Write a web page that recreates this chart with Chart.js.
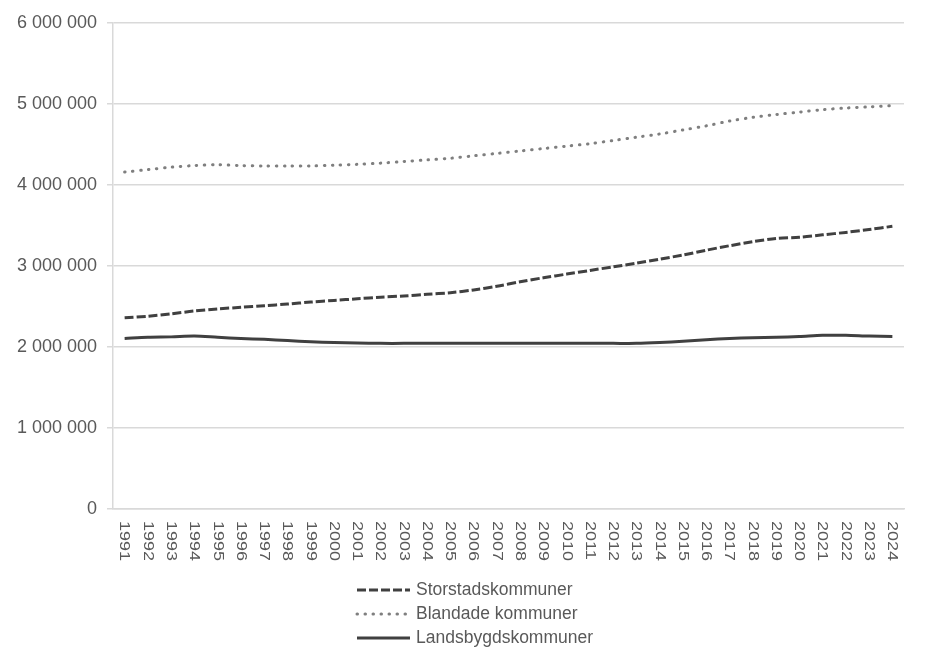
<!DOCTYPE html>
<html>
<head>
<meta charset="utf-8">
<script src="https://cdn.jsdelivr.net/npm/chart.js@4/dist/chart.umd.min.js"></script>
<style>
  html, body { margin: 0; padding: 0; background: #fff; }
</style>
</head>
<body>
<canvas id="chart" width="927" height="658"></canvas>
<script>
// categories
const years = ['1991', '1992', '1993', '1994', '1995', '1996', '1997', '1998', '1999', '2000',
  '2001', '2002', '2003', '2004', '2005', '2006', '2007', '2008', '2009', '2010',
  '2011', '2012', '2013', '2014', '2015', '2016', '2017', '2018', '2019', '2020',
  '2021', '2022', '2023', '2024'];

// series (population)
const storstad = [2360000, 2380000, 2410000, 2445000, 2470000, 2490000, 2510000, 2530000, 2555000, 2575000,
  2595000, 2615000, 2630000, 2650000, 2670000, 2705000, 2750000, 2805000, 2855000, 2900000,
  2945000, 2990000, 3035000, 3085000, 3135000, 3195000, 3250000, 3300000, 3340000, 3355000,
  3385000, 3415000, 3450000, 3490000];
const blandade = [4160000, 4190000, 4220000, 4240000, 4250000, 4240000, 4235000, 4235000, 4235000, 4245000,
  4255000, 4270000, 4290000, 4310000, 4330000, 4360000, 4390000, 4420000, 4450000, 4480000,
  4510000, 4550000, 4590000, 4630000, 4680000, 4730000, 4790000, 4835000, 4870000, 4900000,
  4930000, 4950000, 4965000, 4980000];
const landsbygd = [2105000, 2120000, 2125000, 2135000, 2120000, 2105000, 2095000, 2080000, 2065000, 2055000,
  2050000, 2045000, 2045000, 2045000, 2045000, 2045000, 2045000, 2045000, 2045000, 2045000,
  2045000, 2045000, 2045000, 2055000, 2070000, 2090000, 2105000, 2115000, 2120000, 2130000,
  2145000, 2145000, 2135000, 2130000];

const seriesNames = ['Storstadskommuner', 'Blandade kommuner', 'Landsbygdskommuner'];
const yTicks = [0, 1000000, 2000000, 3000000, 4000000, 5000000, 6000000];

const textColor = '#595959';
const gridColor = '#d9d9d9';
const fontFamily = '"Liberation Sans", Arial, sans-serif';

function fmt(v) {
  return String(v).replace(/\B(?=(\d{3})+(?!\d))/g, ' ');
}

// vertical year labels, reading top to bottom
const yearLabels = {
  id: 'yearLabels',
  afterDraw(chart) {
    const ctx = chart.ctx;
    const x = chart.scales.x;
    ctx.save();
    ctx.fillStyle = textColor;
    ctx.font = '15px ' + fontFamily;
    ctx.textAlign = 'left';
    ctx.textBaseline = 'middle';
    x.ticks.forEach((t, i) => {
      ctx.save();
      ctx.translate(x.getPixelForTick(i), chart.chartArea.bottom + 12);
      ctx.rotate(Math.PI / 2);
      ctx.scale(1.2, 1);
      ctx.fillText(years[i], 0, 0);
      ctx.restore();
    });
    ctx.restore();
  }
};

// legend stacked under the axis
const stackedLegend = {
  id: 'stackedLegend',
  afterDraw(chart) {
    const ctx = chart.ctx;
    const left = Math.round(chart.width / 2 - 108);
    const top = chart.chartArea.bottom + 81;
    ctx.save();
    ctx.font = '17.5px ' + fontFamily;
    ctx.textBaseline = 'middle';
    ctx.textAlign = 'left';
    chart.data.datasets.forEach((ds, i) => {
      const y = top + i * 24;
      ctx.beginPath();
      ctx.strokeStyle = ds.borderColor;
      ctx.lineWidth = ds.borderWidth;
      ctx.lineCap = ds.borderCapStyle || 'butt';
      ctx.setLineDash(ds.borderDash || []);
      ctx.moveTo(left + 1, y);
      ctx.lineTo(left + 54, y);
      ctx.stroke();
      ctx.setLineDash([]);
      ctx.fillStyle = textColor;
      ctx.fillText(ds.label, left + 60, y);
    });
    ctx.restore();
  }
};

const ctx = document.getElementById('chart').getContext('2d');
new Chart(ctx, {
  type: 'line',
  data: {
    labels: years,
    datasets: [
      {
        label: seriesNames[0],
        data: storstad,
        borderColor: '#404040',
        borderWidth: 3,
        borderDash: [9, 3],
        borderCapStyle: 'butt'
      },
      {
        label: seriesNames[1],
        data: blandade,
        borderColor: '#7f7f7f',
        borderWidth: 3,
        borderDash: [0.5, 7.5],
        borderCapStyle: 'round'
      },
      {
        label: seriesNames[2],
        data: landsbygd,
        borderColor: '#404040',
        borderWidth: 3,
        borderCapStyle: 'butt'
      }
    ]
  },
  options: {
    responsive: false,
    animation: false,
    events: [],
    layout: { padding: { left: 0, right: 23, top: 23, bottom: 83 } },
    elements: {
      point: { radius: 0 },
      line: { tension: 0.3, fill: false }
    },
    plugins: {
      legend: { display: false },
      tooltip: { enabled: false }
    },
    scales: {
      x: {
        offset: true,
        grid: { display: false },
        border: { color: gridColor, width: 1.5 },
        ticks: { display: false },
        afterFit(scale) { scale.height = 66; }
      },
      y: {
        min: 0,
        max: 6000000,
        afterBuildTicks(scale) {
          scale.ticks = yTicks.map(v => ({ value: v }));
        },
        afterFit(scale) { scale.width = 113; },
        grid: { color: gridColor, lineWidth: 1.5, tickLength: 6 },
        border: { color: gridColor, width: 1.5 },
        ticks: {
          color: textColor,
          padding: 10,
          font: { family: fontFamily, size: 18 },
          callback: v => fmt(v)
        }
      }
    }
  },
  plugins: [yearLabels, stackedLegend]
});
</script>
</body>
</html>
